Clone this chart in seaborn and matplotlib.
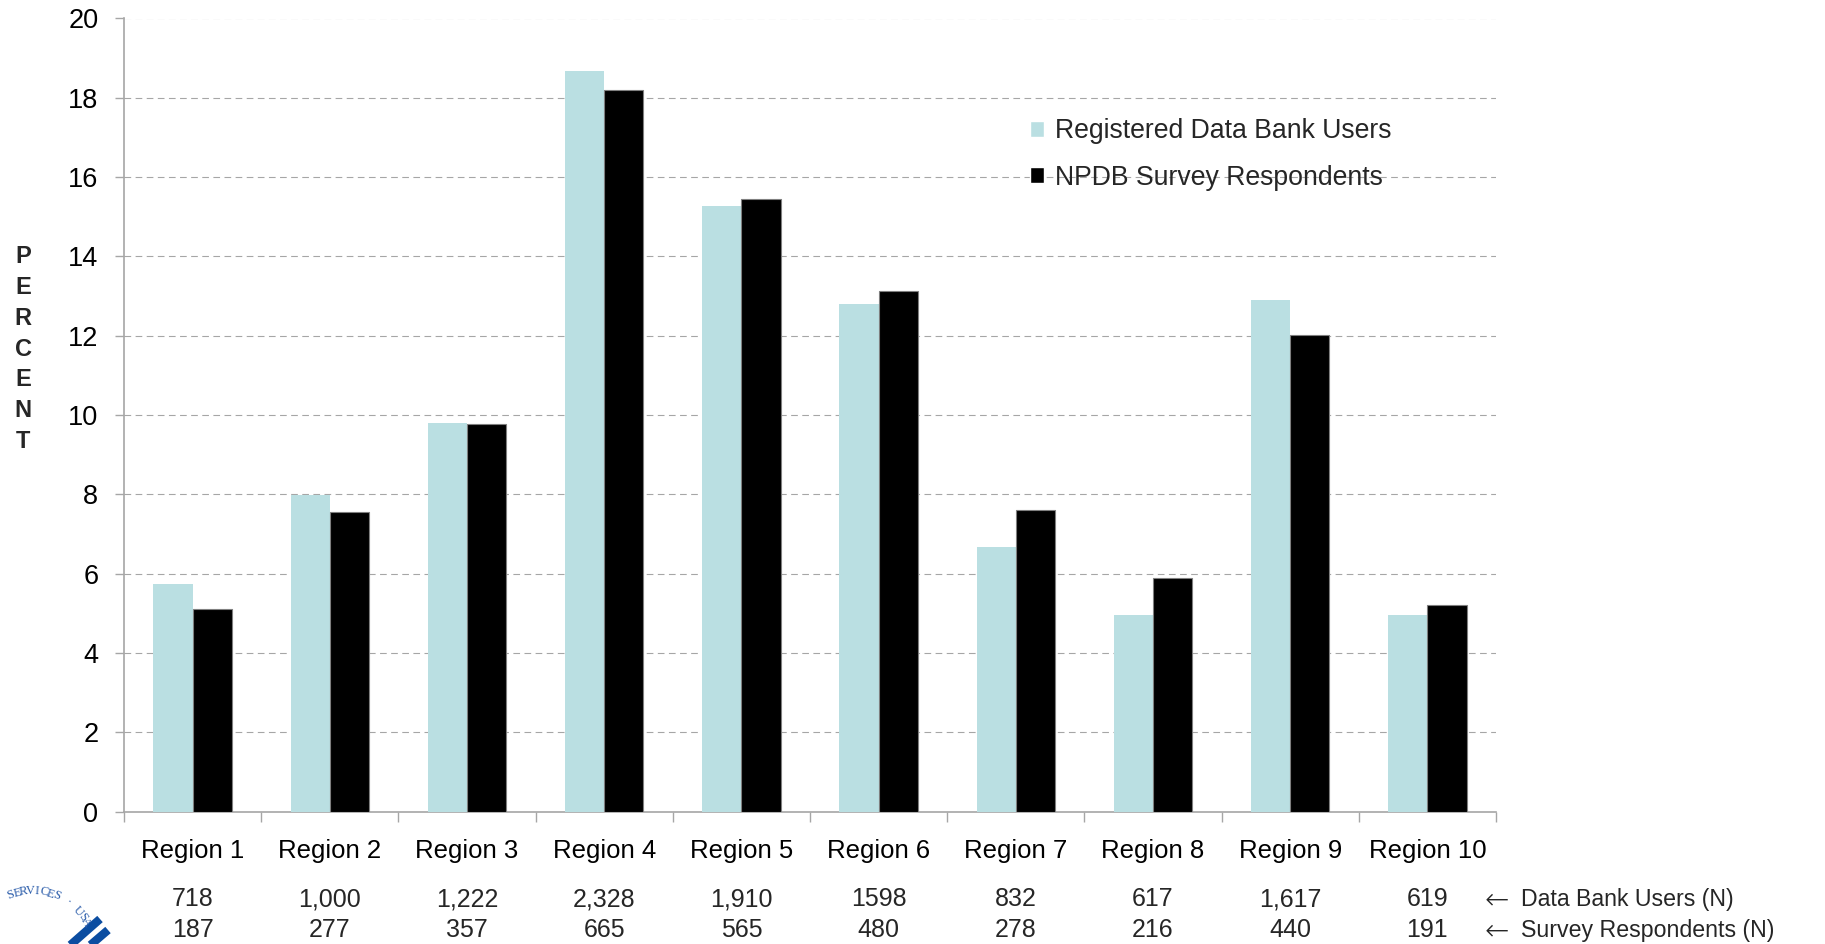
import numpy as np
import pandas as pd
import matplotlib
matplotlib.use("Agg")
import matplotlib.pyplot as plt
import matplotlib.transforms as mtransforms
import seaborn as sns

# ---- data -------------------------------------------------------------
regions = [f"Region {i}" for i in range(1, 11)]
series_names = ["Registered Data Bank Users", "NPDB Survey Respondents"]
registered_users = [5.75, 7.98, 9.79, 18.67, 15.28, 12.80, 6.66, 4.95, 12.89, 4.95]
survey_respondents = [5.10, 7.56, 9.77, 18.19, 15.44, 13.12, 7.60, 5.88, 12.01, 5.20]
users_n = ["718", "1,000", "1,222", "2,328", "1,910", "1598", "832", "617", "1,617", "619"]
respondents_n = ["187", "277", "357", "665", "565", "480", "278", "216", "440", "191"]
y_ticks = list(range(0, 21, 2))

df = pd.DataFrame({
    "region": regions * 2,
    "series": [series_names[0]] * len(regions) + [series_names[1]] * len(regions),
    "percent": registered_users + survey_respondents,
})

# ---- style ------------------------------------------------------------
sns.set_style("white")
plt.rcParams["font.family"] = ["Liberation Sans", "DejaVu Sans"]
GRAY = "#A6A6A6"
LIGHT_BLUE = "#BADFE2"
FS = 18

W, H = 1825, 944
fig = plt.figure(figsize=(W / 100, H / 100), dpi=100)
ax = fig.add_axes([124 / W, 1 - 811.5 / H, (1496 - 124) / W, (811.5 - 18.5) / H])

sns.barplot(
    data=df, x="region", y="percent", hue="series",
    palette=[LIGHT_BLUE, "black"], width=0.57, gap=0, ax=ax,
    saturation=1, zorder=3,
)

# bar outlines: none for light bars, thin gray for dark bars
for bar in ax.containers[0]:
    bar.set_edgecolor("none")
for bar in ax.containers[1]:
    bar.set_edgecolor("#7F7F7F")
    bar.set_linewidth(0.8)

# ---- axes -------------------------------------------------------------
ax.set_xlim(-0.5, len(regions) - 0.5)
ax.set_ylim(0, 20)
ax.set_yticks(y_ticks)
ax.set_xlabel("")
ax.set_ylabel("")
ax.yaxis.grid(True, color=GRAY, linestyle=(0, (6, 4)), linewidth=0.8, zorder=0)
ax.xaxis.grid(False)
ax.set_axisbelow(True)

for side in ["top", "right"]:
    ax.spines[side].set_visible(False)
for side in ["left", "bottom"]:
    ax.spines[side].set_color(GRAY)
    ax.spines[side].set_linewidth(1.2)

ax.tick_params(axis="y", which="major", length=6.5, width=1.0, color=GRAY,
               pad=12, labelsize=19.5, labelcolor="black", left=True)
ax.tick_params(axis="x", which="major", length=0, pad=20, labelsize=18.5,
               labelcolor="black")
ax.set_xticks(np.arange(-0.5, len(regions)), minor=True)
ax.tick_params(axis="x", which="minor", length=7.5, width=1.0, color=GRAY,
               bottom=True)

# ---- legend -----------------------------------------------------------
sns.move_legend(
    ax, "upper left", bbox_to_anchor=(1030 / W, 1 - 118 / H),
    bbox_transform=fig.transFigure, title=None, frameon=False,
    fontsize=19.2, handlelength=0.54, handleheight=0.54, handletextpad=0.38,
    labelspacing=0.78, borderpad=0, borderaxespad=0,
)

# ---- vertical axis title ---------------------------------------------
fig.text(23 / W, 1 - 349 / H, "\n".join("PERCENT"), ha="center", va="center",
         fontsize=17, fontweight="bold", linespacing=1.44)

# ---- counts under each region ----------------------------------------
trans = mtransforms.blended_transform_factory(ax.transData, fig.transFigure)
for i, (u, r) in enumerate(zip(users_n, respondents_n)):
    ax.text(i, 1 - 906 / H, u, transform=trans, ha="center", va="baseline",
            fontsize=FS, clip_on=False)
    ax.text(i, 1 - 937 / H, r, transform=trans, ha="center", va="baseline",
            fontsize=FS, clip_on=False)
for y_px, label in [(906, "Data Bank Users (N)"), (937, "Survey Respondents (N)")]:
    fig.text(1485 / W, 1 - (y_px - 6) / H, "\u2190", ha="left", va="center",
             fontsize=21, family="DejaVu Sans", fontweight="light")
    fig.text(1521 / W, 1 - y_px / H, label, ha="left", va="baseline", fontsize=16.7)

# ---- seal fragment in the lower-left corner ---------------------------
seal_text = "SERVICES \u00b7 USA"
cx, cy, rad = 32, 953, 62
start, step = -20, 6.2
for k, ch in enumerate(seal_text):
    ang = np.deg2rad(start + step * k)
    px = cx + rad * np.sin(ang)
    py = cy - rad * np.cos(ang)
    fig.text(px / W, 1 - py / H, ch, ha="center", va="center",
             rotation=-np.rad2deg(ang), rotation_mode="anchor",
             fontsize=9, family="Liberation Serif", color="#2A5CAA")
for (x0, y0, x1, y1) in [(100, 919, 67, 948), (108, 930, 87, 948)]:
    fig.add_artist(plt.Line2D([x0 / W, x1 / W], [1 - y0 / H, 1 - y1 / H],
                              transform=fig.transFigure, color="#0B4DA1",
                              linewidth=6, solid_capstyle="butt"))

fig.savefig("out.png", dpi=100)
